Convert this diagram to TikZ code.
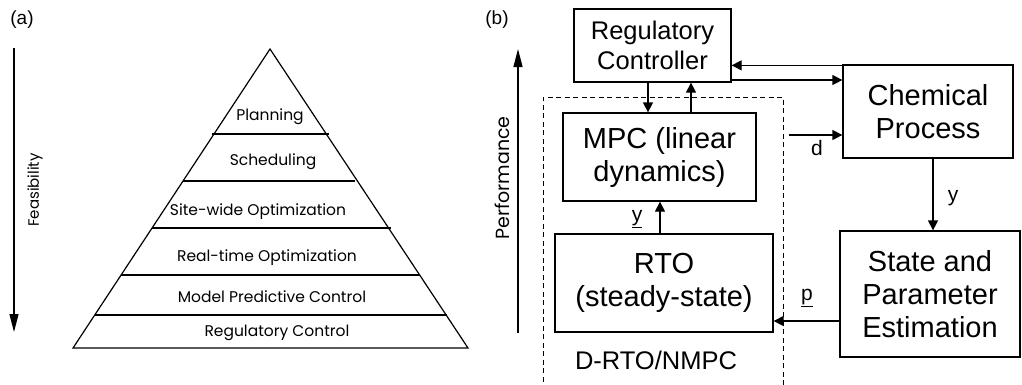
\documentclass[tikz,border=0pt]{standalone}
\usepackage{fontspec}
\setmainfont{Liberation Sans}
\newfontfamily\agfont{Poppins}
\usetikzlibrary{arrows.meta,calc}
\tikzset{
  box/.style={draw, line width=1.3pt, inner sep=0pt, align=center,
              font=\fontsize{29}{33}\selectfont},
  arr/.style={line width=1.3pt, -{Triangle[length=10pt,width=10pt]}},
  bigarr/.style={line width=1.3pt, -{Triangle[length=18pt,width=9pt]}},
  pyr/.style={line width=1.2pt},
  lvl/.style={font=\agfont\fontsize{15.5}{18}\selectfont, inner sep=0pt},
  lab/.style={font=\fontsize{21}{24}\selectfont, inner sep=0pt},
}
\begin{document}
\begin{tikzpicture}[x=1pt,y=-1pt]
\useasboundingbox (0,0) rectangle (1022,384);
% ---------- panel (a)
\node[font=\fontsize{19}{22}\selectfont, inner sep=0pt] (pa) at (22,20) {(a)};
\coordinate (fa1) at (14,48);
\coordinate (fa2) at (14,332);
\draw[bigarr] (fa1) -- (fa2);
\node[lvl, rotate=90, font=\agfont\fontsize{15}{18}\selectfont] (feas) at (35,190) {Feasibility};
% pyramid
\draw[pyr, line join=miter] (73,348) -- (270,49) -- (468,348) -- cycle;
\draw[pyr] (212,134) -- (329,134);
\draw[pyr] (183,181) -- (355,181);
\draw[pyr] (152,228) -- (391,228);
\draw[pyr] (121,275) -- (420,275);
\draw[pyr] (95,315) -- (447,315);
\node[lvl] (l1) at (270,117) {Planning};
\node[lvl] (l2) at (273,162) {Scheduling};
\node[lvl] (l3) at (258,212) {Site-wide Optimization};
\node[lvl] (l4) at (267,258) {Real-time Optimization};
\node[lvl] (l5) at (272,297) {Model Predictive Control};
\node[lvl] (l6) at (277,333) {Regulatory Control};
% ---------- panel (b)
\node[font=\fontsize{19}{22}\selectfont, inner sep=0pt] (pb) at (497,20) {(b)};
\coordinate (pe1) at (518,333);
\coordinate (pe2) at (518,49);
\draw[bigarr] (pe1) -- (pe2);
\node[lvl, rotate=90, font=\agfont\fontsize{19}{22}\selectfont] (perf) at (502,178) {Performance};
% dashed region
\draw[line width=1pt, dash pattern=on 5pt off 3.5pt] (543,390) -- (543,97) -- (783,97) -- (783,390);
% boxes
\node[box, minimum width=157pt, minimum height=73pt, font=\fontsize{25.5}{30}\selectfont] (reg) at (652.5,45.5) {Regulatory\\Controller};
\node[box, minimum width=193pt, minimum height=88pt] (mpc) at (659.5,157) {MPC (linear\\dynamics)};
\node[box, minimum width=218pt, minimum height=98pt] (rto) at (664,283) {RTO\\(steady-state)};
\node[box, minimum width=170pt, minimum height=93pt] (chem) at (928,111.5) {Chemical\\Process};
\node[box, minimum width=180pt, minimum height=126pt] (state) at (930,294) {State and\\Parameter\\Estimation};
\node[font=\fontsize{25.5}{30}\selectfont, inner sep=0pt] (drto) at (656,360) {D-RTO/NMPC};
% connectors
\draw[arr] ([xshift=-4.5pt]reg.south) -- ([xshift=-4.5pt]reg.south |- mpc.north);
\draw[arr] ([xshift=31.5pt]mpc.north) -- ([xshift=31.5pt]mpc.north |- reg.south);
\draw[arr] ([xshift=-4pt]rto.north) -- ([xshift=-4pt]rto.north |- mpc.south);
\node[lab] (ylab1) at (637,219) {\underline{y}};
\draw[arr] ([yshift=-1pt]chem.north west) -- ([yshift=-1pt]chem.north west -| reg.east);
\draw[arr] ([yshift=-34.5pt]reg.east) -- ([yshift=-34.5pt]reg.east -| chem.west);
\coordinate (dstart) at (789,135);
\draw[arr] (dstart) -- (dstart -| chem.west);
\node[lab] (dlab) at (817,148) {d};
\draw[arr] ([xshift=5pt]chem.south) -- ([xshift=5pt]chem.south |- state.north);
\node[lab] (ylab2) at (953,198) {y};
\draw[arr] ([yshift=-27pt]state.west) -- ([yshift=-27pt]state.west -| rto.east);
\node[lab] (plab) at (807,298) {\underline{p}};
\end{tikzpicture}
\end{document}
